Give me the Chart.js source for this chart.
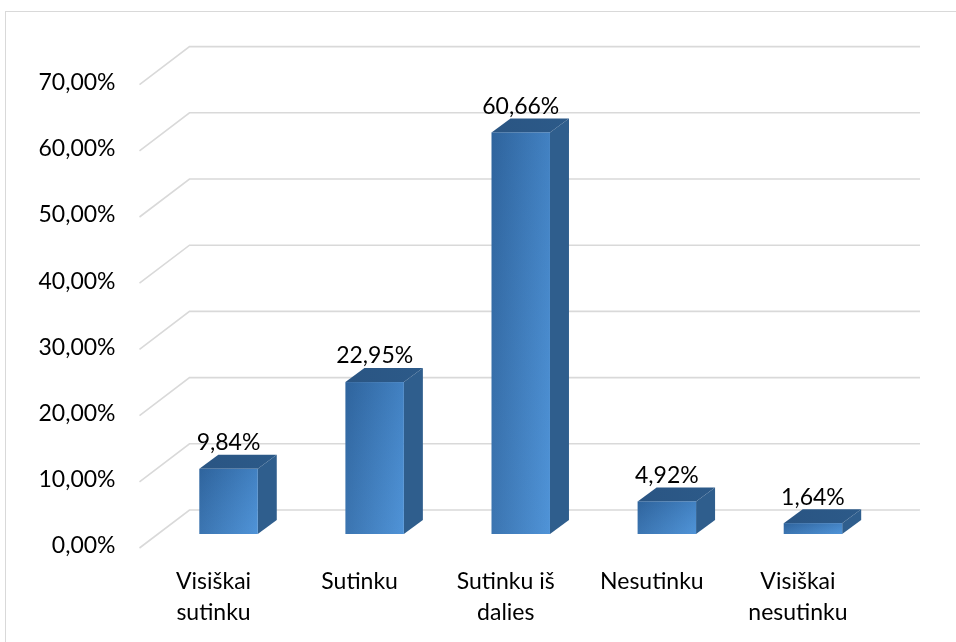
<!DOCTYPE html>
<html>
<head>
<meta charset="utf-8">
<script src="https://cdn.jsdelivr.net/npm/chart.js@4.4.1/dist/chart.umd.min.js"></script>
<style>
  html, body { margin: 0; padding: 0; background: #fff; }
</style>
</head>
<body>
<canvas id="chart" width="956" height="642"></canvas>
<script>
const categories = [['Visiškai', 'sutinku'], 'Sutinku', ['Sutinku iš', 'dalies'], 'Nesutinku', ['Visiškai', 'nesutinku']]
const values = [9.84, 22.95, 60.66, 4.92, 1.64]
const yTicks = [0, 10, 20, 30, 40, 50, 60, 70]

const FONT = 'Lato, "Open Sans", sans-serif'
const fmt = (v) => v.toFixed(2).replace('.', ',') + '%'

// offsets of the fake 3d scene, relative to the bar front plane
const depth = {dx: 19, dy: -14}
const back = {dx: 34, dy: -24}
const front = {dx: -16, dy: 14}

const threeD = {
    id: 'threeD',
    beforeDraw(chart) {
        const ctx = chart.ctx
        ctx.save()
        ctx.strokeStyle = '#d9d9d9'
        ctx.lineWidth = 1
        ctx.strokeRect(5.5, 11.5, 1000, 1000)
        ctx.restore()
    },
    beforeDatasetsDraw(chart) {
        const ctx = chart.ctx
        const area = chart.chartArea
        const y = chart.scales.y
        ctx.save()
        ctx.strokeStyle = '#d9d9d9'
        ctx.lineWidth = 1.6
        yTicks.forEach((v) => {
            const py = y.getPixelForValue(v)
            const bx = area.left + back.dx
            const by = py + back.dy
            ctx.beginPath()
            ctx.moveTo(area.left + front.dx, py + front.dy)
            ctx.lineTo(bx, by)
            ctx.lineTo(area.right + back.dx, by)
            ctx.stroke()
        })
        ctx.restore()
    },
    afterDatasetsDraw(chart) {
        const ctx = chart.ctx
        const meta = chart.getDatasetMeta(0)
        ctx.save()
        meta.data.forEach((bar, i) => {
            const x0 = bar.x - bar.width / 2
            const x1 = bar.x + bar.width / 2
            const yt = bar.y
            const yb = bar.base

            // side
            ctx.fillStyle = '#2f5e8d'
            ctx.beginPath()
            ctx.moveTo(x1, yt)
            ctx.lineTo(x1 + depth.dx, yt + depth.dy)
            ctx.lineTo(x1 + depth.dx, yb + depth.dy)
            ctx.lineTo(x1, yb)
            ctx.closePath()
            ctx.fill()

            // top
            const gt = ctx.createLinearGradient(x0, yt, x1 + depth.dx, yt + depth.dy)
            gt.addColorStop(0, '#2a5583')
            gt.addColorStop(1, '#2c5a89')
            ctx.fillStyle = gt
            ctx.beginPath()
            ctx.moveTo(x0, yt)
            ctx.lineTo(x0 + depth.dx, yt + depth.dy)
            ctx.lineTo(x1 + depth.dx, yt + depth.dy)
            ctx.lineTo(x1, yt)
            ctx.closePath()
            ctx.fill()

            // front: left-to-right shading plus a slight darkening towards the top
            const gf = ctx.createLinearGradient(x0, 0, x1, 0)
            gf.addColorStop(0, '#336ca8')
            gf.addColorStop(1, '#4a8fd4')
            ctx.fillStyle = gf
            ctx.fillRect(x0, yt, x1 - x0, yb - yt)
            const gv = ctx.createLinearGradient(0, yt, 0, yb)
            gv.addColorStop(0, 'rgba(20,50,90,0.15)')
            gv.addColorStop(1, 'rgba(120,180,240,0.12)')
            ctx.fillStyle = gv
            ctx.fillRect(x0, yt, x1 - x0, yb - yt)

            // value label
            ctx.fillStyle = '#000'
            ctx.font = '23px ' + FONT
            ctx.textAlign = 'center'
            ctx.textBaseline = 'middle'
            ctx.fillText(fmt(values[i]), bar.x, yt + depth.dy - 12)
        })
        ctx.restore()
    }
}

new Chart(document.getElementById('chart'), {
    type: 'bar',
    data: {
        labels: categories,
        datasets: [{
            data: values,
            backgroundColor: 'rgba(0,0,0,0)',
            borderWidth: 0,
            barPercentage: 0.8,
            categoryPercentage: 0.5,
        }]
    },
    options: {
        responsive: false,
        animation: false,
        devicePixelRatio: 1,
        layout: {padding: {top: 70.6, right: 70, bottom: 0, left: 0}},
        plugins: {
            legend: {display: false},
            tooltip: {enabled: false},
        },
        scales: {
            y: {
                min: 0,
                max: 70,
                afterBuildTicks: (scale) => {
                    scale.ticks = yTicks.map((v) => ({value: v}))
                },
                afterFit: (scale) => {
                    scale.width = 155.5
                },
                border: {display: false},
                grid: {display: false, drawTicks: false},
                ticks: {
                    padding: 40,
                    labelOffset: 12,
                    color: '#000',
                    font: {family: FONT, size: 23},
                    callback: (v) => fmt(v),
                },
            },
            x: {
                afterFit: (scale) => {
                    scale.height = 108
                },
                border: {display: false},
                grid: {display: false, drawTicks: false},
                ticks: {
                    padding: 32,
                    labelOffset: -15,
                    maxRotation: 0,
                    autoSkip: false,
                    color: '#000',
                    font: {family: FONT, size: 23, lineHeight: 1.35},
                },
            },
        },
    },
    plugins: [threeD],
})
</script>
</body>
</html>
